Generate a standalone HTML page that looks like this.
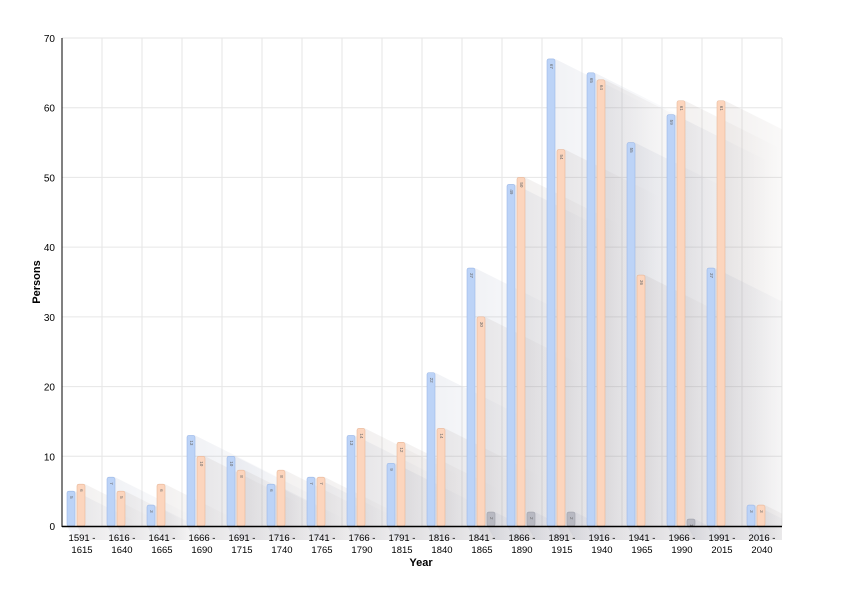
<!DOCTYPE html>
<html><head><meta charset="utf-8"><style>body{margin:0;background:#fff}svg{display:block;font-family:"Liberation Sans",sans-serif}</style></head><body>
<svg id="s" width="841" height="601" xmlns="http://www.w3.org/2000/svg">
<defs>
<linearGradient id="shb" x1="0" y1="0" x2="1" y2="0"><stop offset="0" stop-color="#8a94b0" stop-opacity="0.13"/><stop offset="0.5" stop-color="#8a94b0" stop-opacity="0.07"/><stop offset="1" stop-color="#8a94b0" stop-opacity="0"/></linearGradient>
<linearGradient id="sho" x1="0" y1="0" x2="1" y2="0"><stop offset="0" stop-color="#9a8a84" stop-opacity="0.13"/><stop offset="0.5" stop-color="#9a8a84" stop-opacity="0.07"/><stop offset="1" stop-color="#9a8a84" stop-opacity="0"/></linearGradient>
<clipPath id="c"><rect x="62" y="38" width="720" height="512"/></clipPath>
</defs>
<g id="grid"></g><g id="shd" clip-path="url(#c)"></g><g id="bars"></g>
<line x1="62" y1="526.5" x2="782" y2="526.5" stroke="#000" stroke-width="1.5"/>
<line x1="62" y1="38" x2="62" y2="527" stroke="#000" stroke-width="1"/>
<text x="40" y="282" transform="rotate(-90 40 282)" text-anchor="middle" font-size="11" font-weight="bold">Persons</text>
<text x="421" y="566" text-anchor="middle" font-size="11" font-weight="bold">Year</text>
</svg>
<script>
const B=[5,7,3,13,10,6,7,13,9,22,37,49,67,65,55,59,37,3],O=[6,5,6,10,8,8,7,14,12,14,30,50,54,64,36,61,61,3],G={10:2,11:2,12:2,15:1};
const ns="http://www.w3.org/2000/svg",k=488/70,y0=526;
function el(p,t,a,tx){const e=document.createElementNS(ns,t);for(const q in a)e.setAttribute(q,a[q]);if(tx!=null)e.textContent=tx;document.getElementById(p).appendChild(e);}
for(let v=0;v<=70;v+=10){const y=y0-v*k;if(v)el("grid","line",{x1:62,x2:782,y1:y,y2:y,stroke:"#e6e6e6"});el("grid","text",{x:55,y:y+4,"text-anchor":"end","font-size":"10"},v);}
for(let i=0;i<=18;i++){const x=62+40*i;el("grid","line",{x1:x,x2:x,y1:38,y2:526,stroke:"#e6e6e6"});}
function bar(x,v,f,s,g){const h=v*k,t=y0-h,L=Math.min(95,20+h*1.2);
el("shd","polygon",{points:`${x},${t} ${x+8},${t} ${x+8+L},${t+L*0.5} ${x+8+L},${y0+14} ${x+8},${y0+14} ${x},${y0}`,fill:g});
el("bars","rect",{x:x,y:t,width:8,height:h,rx:2,fill:f,stroke:s,"stroke-width":0.6});
el("bars","text",{x:x+4,y:t+5,transform:`rotate(90 ${x+4} ${t+5})`,"font-size":"4.5",fill:"#666","dominant-baseline":"middle"},v);}
for(let i=0;i<18;i++){const x0=62+40*i;bar(x0+5,B[i],"#bcd3f7","#9db8e6","url(#shb)");bar(x0+15,O[i],"#fcd5bd","#e8b89a","url(#sho)");
if(G[i]){bar(x0+25,G[i],"#b8b9c2","#a0a1aa","url(#shb)");}}
for(let i=0;i<18;i++){const x0=62+40*i,a=1591+25*i;el("bars","text",{x:x0+20,y:541,"text-anchor":"middle","font-size":"9.5"},a+" -");el("bars","text",{x:x0+20,y:553,"text-anchor":"middle","font-size":"9.5"},a+24);}
</script>
</body></html>
